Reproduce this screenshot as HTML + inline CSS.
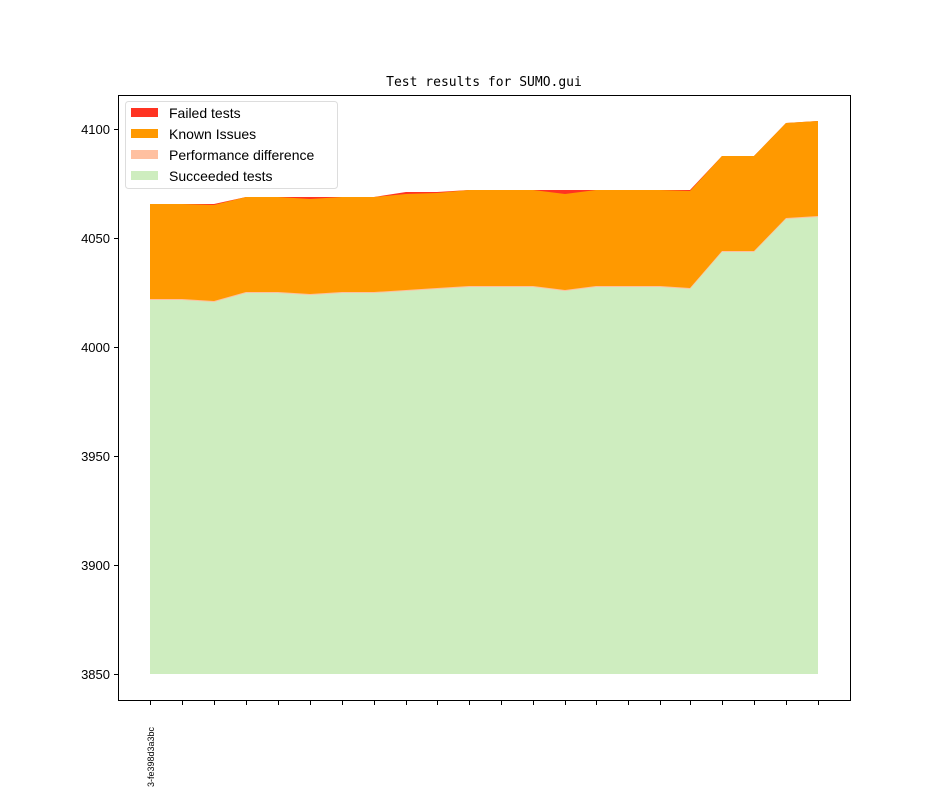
<!DOCTYPE html>
<html><head><style>body{margin:0;background:#fff}</style></head><body>
<svg width="944" height="787" xmlns="http://www.w3.org/2000/svg" font-family="Liberation Sans, DejaVu Sans, sans-serif">
<rect width="944" height="787" fill="#fff"/>
<text x="484" y="86" font-size="13" text-anchor="middle" font-family="DejaVu Sans Mono, Liberation Mono, monospace">Test results for SUMO.gui</text>
<!-- failed (top layer) -->
<polygon fill="#ff3322" points="150,204 182,204 214,204 246,197 278,197 310,197 342,197 374,197 406,192 437,192 469,190 501,190 533,190 565,190 596,190 628,190 660,190 690,190 722,156 754,156 786,123 818,121 818,674 150,674"/>
<!-- known -->
<polygon fill="#ff9900" points="150,204 182,204 214,205 246,197 278,197 310,199 342,197 374,197 406,194 437,193 469,190 501,190 533,190 565,194 596,190 628,190 660,190 690,191 722,156 754,156 786,123 818,121 818,674 150,674"/>
<!-- perf -->
<polygon fill="#ffc0a0" points="150,299 182,299 214,301 246,292 278,292 310,294 342,292 374,292 406,290 437,288 469,286 501,286 533,286 565,290 596,286 628,286 660,286 690,288 722,251 754,251 786,218 818,216 818,674 150,674"/>
<!-- success -->
<polygon fill="#ceedbf" points="150,300 182,300 214,302 246,293 278,293 310,295 342,293 374,293 406,291 437,289 469,287 501,287 533,287 565,291 596,287 628,287 660,287 690,289 722,252 754,252 786,219 818,217 818,674 150,674"/>
<rect x="118.5" y="95.5" width="732" height="605" fill="none" stroke="#000" stroke-width="1"/>
<g stroke="#000" stroke-width="1">
<line x1="114" x2="118" y1="129.5" y2="129.5"/><line x1="114" x2="118" y1="238.5" y2="238.5"/><line x1="114" x2="118" y1="347.5" y2="347.5"/><line x1="114" x2="118" y1="456.5" y2="456.5"/><line x1="114" x2="118" y1="565.5" y2="565.5"/><line x1="114" x2="118" y1="674.5" y2="674.5"/>
</g>
<g font-size="13" text-anchor="end">
<text x="110" y="134">4100</text><text x="110" y="243">4050</text><text x="110" y="352">4000</text><text x="110" y="461">3950</text><text x="110" y="570">3900</text><text x="110" y="679">3850</text>
</g>
<g stroke="#000" stroke-width="1">
<line x1="150.5" x2="150.5" y1="701" y2="705"/><line x1="182.5" x2="182.5" y1="701" y2="705"/><line x1="214.5" x2="214.5" y1="701" y2="705"/><line x1="246.5" x2="246.5" y1="701" y2="705"/><line x1="278.5" x2="278.5" y1="701" y2="705"/><line x1="310.5" x2="310.5" y1="701" y2="705"/><line x1="342.5" x2="342.5" y1="701" y2="705"/><line x1="374.5" x2="374.5" y1="701" y2="705"/><line x1="406.5" x2="406.5" y1="701" y2="705"/><line x1="437.5" x2="437.5" y1="701" y2="705"/><line x1="469.5" x2="469.5" y1="701" y2="705"/><line x1="501.5" x2="501.5" y1="701" y2="705"/><line x1="533.5" x2="533.5" y1="701" y2="705"/><line x1="565.5" x2="565.5" y1="701" y2="705"/><line x1="596.5" x2="596.5" y1="701" y2="705"/><line x1="628.5" x2="628.5" y1="701" y2="705"/><line x1="660.5" x2="660.5" y1="701" y2="705"/><line x1="690.5" x2="690.5" y1="701" y2="705"/><line x1="722.5" x2="722.5" y1="701" y2="705"/><line x1="754.5" x2="754.5" y1="701" y2="705"/><line x1="786.5" x2="786.5" y1="701" y2="705"/><line x1="818.5" x2="818.5" y1="701" y2="705"/>
</g>
<text transform="translate(154,787) rotate(-90)" font-size="9">3-fe398d3a3bc</text>
<rect x="125.5" y="101.5" width="212" height="87" rx="3" fill="#fff" fill-opacity="0.8" stroke="#ddd"/>
<rect x="131" y="108" width="27" height="9" fill="#ff3322"/>
<rect x="131" y="129" width="27" height="9" fill="#ff9900"/>
<rect x="131" y="150" width="27" height="9" fill="#ffc0a0"/>
<rect x="131" y="171" width="27" height="9" fill="#ceedbf"/>
<g font-size="14">
<text x="169" y="118">Failed tests</text><text x="169" y="139">Known Issues</text><text x="169" y="160">Performance difference</text><text x="169" y="181">Succeeded tests</text>
</g>
</svg>
</body></html>
